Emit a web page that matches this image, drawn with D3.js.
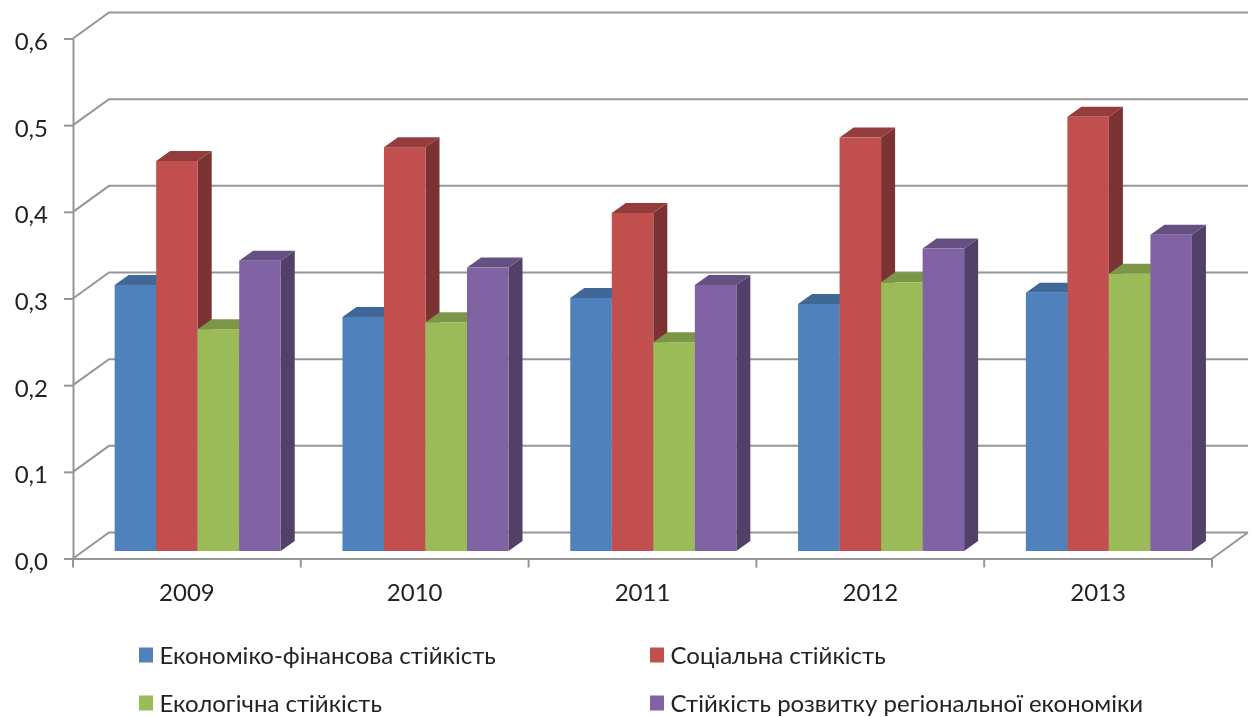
<!DOCTYPE html>
<meta charset="utf-8">
<style>
  html, body { margin: 0; padding: 0; background: #fff; }
  svg { display: block; }
  text { font-family: Lato, "Open Sans", sans-serif; fill: #222; }
</style>
<body>
  <div id="chart"></div>
  <script src="https://d3js.org/d3.v7.min.js"></script>
  <script>
    var years = ["2009", "2010", "2011", "2012", "2013"];
    var seriesNames = ["Економіко-фінансова стійкість", "Соціальна стійкість", "Екологічна стійкість", "Стійкість розвитку регіональної економіки"];
    var econ = [0.307, 0.270, 0.292, 0.285, 0.298];
    var social = [0.450, 0.466, 0.390, 0.477, 0.501];
    var ecology = [0.256, 0.264, 0.241, 0.310, 0.320];
    var regional = [0.335, 0.327, 0.307, 0.349, 0.365];
    var allSeries = [econ, social, ecology, regional];
    var yTicks = [0, 0.1, 0.2, 0.3, 0.4, 0.5, 0.6];

    var frontColors = ["#4f81bd", "#c0504d", "#9bbb59", "#8064a2"];
    var topColors = ["#3f6797", "#953e3c", "#7c9647", "#664f82"];
    var sideColors = ["#345479", "#7a3230", "#637838", "#534069"];

    var width = 1253, height = 717;
    var x0 = 73, x1 = 1212, y0 = 558.5, y6 = 38.5;
    var wallDx = 36, wallDy = -26;      // front floor edge to back wall
    var barShiftX = 10, barShiftY = -7.5; // front floor edge to bar front
    var barDx = 14, barDy = -10;        // depth of a bar

    var svg = d3.select("#chart").append("svg")
      .attr("width", width)
      .attr("height", height);

    // the reference is a slightly soft upscaled picture
    svg.append("defs").append("filter")
      .attr("id", "soft")
      .append("feGaussianBlur")
      .attr("stdDeviation", 0.5);
    var root = svg.append("g").attr("filter", "url(#soft)");

    var x = d3.scaleBand().domain(years).range([x0, x1]);
    var y = d3.scaleLinear().domain([0, 0.6]).range([y0, y6]);
    var xInner = d3.scaleBand().domain(d3.range(4))
      .range([x.bandwidth() * 0.139, x.bandwidth() * 0.868]);

    var gridColor = "#969696";

    // back wall and left wall lines
    var grid = root.append("g")
      .attr("fill", "none")
      .attr("stroke", gridColor)
      .attr("stroke-width", 2);
    grid.selectAll("path")
      .data(yTicks)
      .enter().append("path")
      .attr("d", function(d) {
        return "M" + x0 + "," + y(d) + "L" + (x0 + wallDx) + "," + (y(d) + wallDy) + "L" + (x1 + wallDx) + "," + (y(d) + wallDy);
      });
    // floor right edge
    grid.append("path")
      .attr("d", "M" + x1 + "," + y0 + "L" + (x1 + wallDx) + "," + (y0 + wallDy));

    // axes
    var yAxis = d3.axisLeft(y)
      .tickValues(yTicks)
      .tickSize(9)
      .tickPadding(16)
      .tickSizeOuter(0)
      .tickFormat(function(d) { return d3.format(".1f")(d).replace(".", ","); });
    var yG = root.append("g").attr("transform", "translate(" + x0 + ",0)").call(yAxis);

    var xAxis = d3.axisBottom(x).tickSize(0).tickPadding(25);
    var xG = root.append("g").attr("transform", "translate(0," + y0 + ")").call(xAxis);
    xG.selectAll(".boundary")
      .data(d3.range(years.length + 1))
      .enter().append("line")
      .attr("class", "boundary")
      .attr("x1", function(d) { return x0 + d * x.step(); })
      .attr("x2", function(d) { return x0 + d * x.step(); })
      .attr("y1", 0)
      .attr("y2", 9)
      .attr("stroke", gridColor)
      .attr("stroke-width", 2);

    [yG, xG].forEach(function(g) {
      g.select(".domain").attr("stroke", gridColor).attr("stroke-width", 2);
      g.selectAll(".tick line").attr("stroke", gridColor).attr("stroke-width", 2);
      g.selectAll("text").style("font-size", "24px").attr("fill", "#222").style("font-family", "Lato, 'Open Sans', sans-serif");
    });
    yG.selectAll("text").attr("dy", "0.46em");

    // bars, drawn left to right so each front hides the side of the previous one
    var bars = root.append("g");
    years.forEach(function(year, c) {
      var group = bars.append("g");
      allSeries.forEach(function(values, s) {
        var left = x(year) + xInner(s) + barShiftX;
        var w = xInner.bandwidth();
        var bottom = y(0) + barShiftY;
        var top = y(values[c]) + barShiftY;
        var bar = group.append("g");
        bar.append("polygon")
          .attr("fill", sideColors[s])
          .attr("points", [[left + w, top], [left + w + barDx, top + barDy], [left + w + barDx, bottom + barDy], [left + w, bottom]].join(" "));
        bar.append("polygon")
          .attr("fill", topColors[s])
          .attr("points", [[left, top], [left + barDx, top + barDy], [left + w + barDx, top + barDy], [left + w, top]].join(" "));
        bar.append("rect")
          .attr("x", left)
          .attr("y", top)
          .attr("width", w)
          .attr("height", bottom - top)
          .attr("fill", frontColors[s]);
      });
    });

    // legend
    var legendX = d3.scaleOrdinal().domain([0, 1]).range([139, 650]);
    var legendY = d3.scaleOrdinal().domain([0, 1]).range([655, 703]);
    var legend = root.append("g").selectAll("g")
      .data(seriesNames)
      .enter().append("g")
      .attr("transform", function(d, i) {
        return "translate(" + legendX(i % 2) + "," + legendY(Math.floor(i / 2)) + ")";
      });
    legend.append("rect")
      .attr("y", -7.5)
      .attr("width", 14)
      .attr("height", 15)
      .attr("fill", function(d, i) { return frontColors[i]; });
    legend.append("text")
      .attr("x", 20.5)
      .attr("y", 0)
      .attr("dy", "0.36em")
      .style("font-size", "24px")
      .text(function(d) { return d; });
  </script>
</body>
